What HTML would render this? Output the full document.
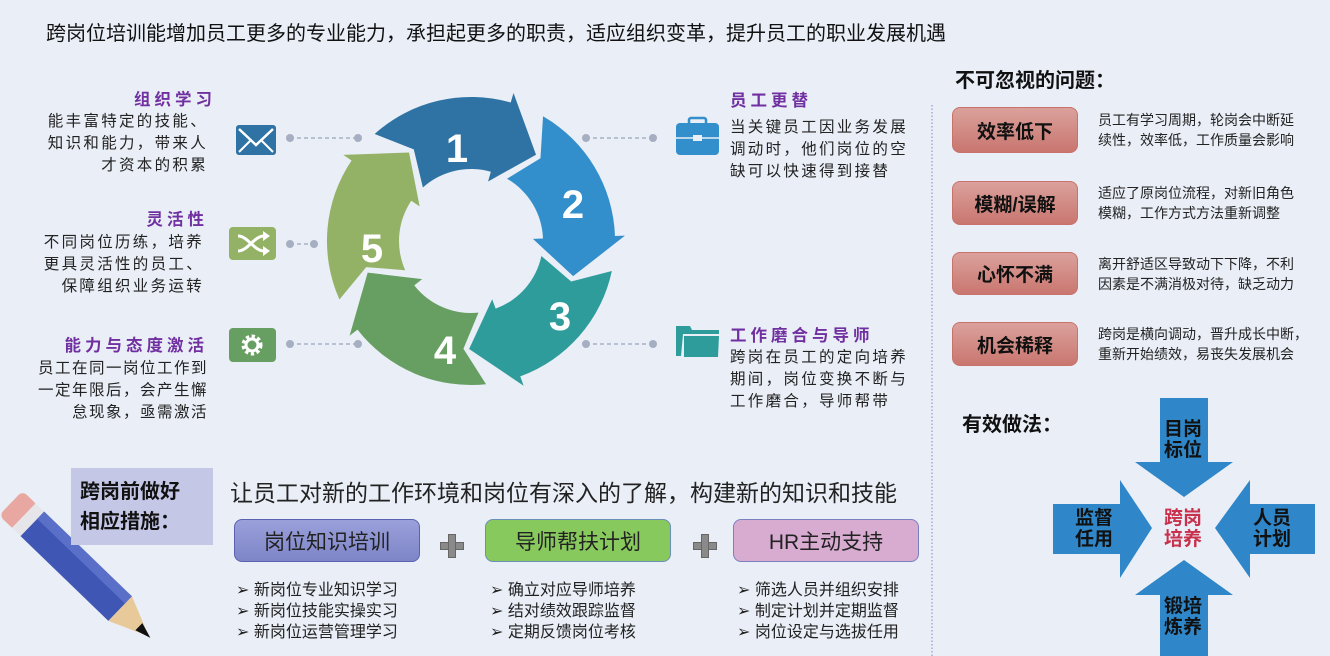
<!DOCTYPE html>
<html><head><meta charset="utf-8">
<style>
*{margin:0;padding:0;box-sizing:border-box}
body{width:1330px;height:656px;overflow:hidden;background:#e9eef7;font-family:"Liberation Sans","Noto Sans CJK SC",sans-serif;color:#222;position:relative}
.a{position:absolute;white-space:nowrap}
.tt{color:#7030a0;font-weight:bold;font-size:16.5px;letter-spacing:4px}
.tx{font-size:15.5px;line-height:22px;letter-spacing:2.3px;color:#222}
.r{text-align:right}
.rb{position:absolute;left:952px;width:126px;border:1px solid #c8726c;border-radius:8px;background:linear-gradient(#dba19c,#c9766f);font-weight:bold;font-size:19px;display:flex;align-items:center;justify-content:center;color:#111}
.rd{font-size:14px;line-height:20px;color:#222}
.gb{position:absolute;top:519px;height:43px;width:186px;border-radius:8px;font-size:21px;display:flex;align-items:center;justify-content:center;color:#222}
.bl{font-size:16px;line-height:21px;color:#222}
.cl{font-weight:bold;font-size:19px;line-height:21px;color:#111;text-align:center}
</style></head><body>

<div class="a" style="left:46px;top:17px;font-size:20px;color:#111">跨岗位培训能增加员工更多的专业能力，承担起更多的职责，适应组织变革，提升员工的职业发展机遇</div>

<svg class="a" style="left:0;top:0" width="1330" height="656">
 <g stroke="#9aa6bb" stroke-width="1.3" stroke-dasharray="4 3" fill="none">
  <line x1="290" y1="138" x2="358" y2="138"/>
  <line x1="290" y1="244" x2="314" y2="244"/>
  <line x1="290" y1="344" x2="358" y2="344"/>
  <line x1="586" y1="138" x2="653" y2="138"/>
  <line x1="586" y1="344" x2="653" y2="344"/>
 </g>
 <g fill="#a6afc2">
  <circle cx="290" cy="138" r="4"/><circle cx="358" cy="138" r="4"/>
  <circle cx="290" cy="244" r="4"/><circle cx="314" cy="244" r="4"/>
  <circle cx="290" cy="344" r="4"/><circle cx="358" cy="344" r="4"/>
  <circle cx="586" cy="138" r="4"/><circle cx="653" cy="138" r="4"/>
  <circle cx="586" cy="344" r="4"/><circle cx="653" cy="344" r="4"/>
 </g>
 <defs>
  <path id="seg" d="M-80.5,-119.4 A144,144 0 0 1 58.6,-131.6 L62.7,-140.7 L76.4,-76.4 L25.2,-56.6 L29.3,-65.8 A72,72 0 0 0 -40.2,-59.7 L-43.9,-98.7 Z"/>
 </defs>
 <g transform="translate(471,241)">
  <use href="#seg" fill="#2e73a3" transform="rotate(-8)"/>
  <use href="#seg" fill="#338fcb" transform="rotate(64)"/>
  <use href="#seg" fill="#2f9c9c" transform="rotate(136)"/>
  <use href="#seg" fill="#679f62" transform="rotate(208)"/>
  <use href="#seg" fill="#93b266" transform="rotate(280)"/>
 </g>
 <g fill="#fff" font-family="Liberation Sans,sans-serif" font-weight="bold" font-size="40" text-anchor="middle">
  <text x="457" y="162">1</text>
  <text x="573" y="218">2</text>
  <text x="560" y="330">3</text>
  <text x="445" y="364">4</text>
  <text x="372" y="262">5</text>
 </g>
 <rect x="236" y="125" width="40" height="30" rx="3" fill="#2e73a3"/>
 <polyline points="239,129 256,145 273,129" fill="none" stroke="#fff" stroke-width="2.5"/>
 <line x1="239" y1="152" x2="250" y2="141" stroke="#fff" stroke-width="2"/>
 <line x1="273" y1="152" x2="262" y2="141" stroke="#fff" stroke-width="2"/>
 <rect x="229" y="227" width="47" height="33" rx="4" fill="#93b266"/>
 <g stroke="#fff" stroke-width="3" fill="none">
  <path d="M238,236 C248,236 254,251 264,251"/><path d="M238,251 C248,251 254,236 264,236"/>
 </g>
 <polygon points="263,231 270,236 263,241" fill="#fff"/><polygon points="263,246 270,251 263,256" fill="#fff"/>
 <rect x="229" y="328" width="47" height="34" rx="4" fill="#679f62"/>
 <circle cx="252" cy="345" r="8" fill="none" stroke="#fff" stroke-width="5" stroke-dasharray="3 2.3"/>
 <circle cx="252" cy="345" r="6" fill="none" stroke="#fff" stroke-width="3"/>
 <rect x="676" y="123" width="43" height="32" rx="4" fill="#338fcb"/>
 <rect x="689" y="118" width="17" height="7" rx="2" fill="none" stroke="#338fcb" stroke-width="2.5"/>
 <line x1="676" y1="138" x2="719" y2="138" stroke="#e9eef7" stroke-width="1.5"/>
 <rect x="693" y="135" width="9" height="6" fill="#e9eef7"/>
 <path d="M676,326 L690,326 L692,330 L719,330 L719,334 L683,334 L681,356 L676,356 Z" fill="#2f9c9c"/>
 <path d="M684,336 L719,336 L718,357 L684,357 Z" fill="#2f9c9c"/>
 <line x1="932" y1="105" x2="932" y2="656" stroke="#8c9bd0" stroke-width="1.2" stroke-dasharray="1.5 2"/>
 <g fill="#2f86c8">
  <polygon points="1160,398 1208,398 1208,462 1233,462 1184,497 1135,462 1160,462"/>
  <polygon points="1160,656 1208,656 1208,595 1233,595 1184,560 1135,595 1160,595"/>
  <polygon points="1053,504 1120,504 1120,480 1152,528 1120,578 1120,554 1053,554"/>
  <polygon points="1315,504 1250,504 1250,480 1215,528 1250,578 1250,554 1315,554"/>
 </g>
 <g transform="translate(18,510) rotate(44)">
  <rect x="-10" y="-17" width="22" height="34" rx="6" fill="#e8a7a0"/>
  <rect x="8" y="-17" width="12" height="34" fill="#e6e6ea"/>
  <rect x="20" y="-17" width="122" height="34" fill="#3f56b4"/>
  <rect x="20" y="-17" width="122" height="10" fill="#5a70c8"/>
  <polygon points="142,-17 182,0 142,17" fill="#e8c99a"/>
  <polygon points="168,-5 184,0 168,5" fill="#111"/>
 </g>
</svg>

<div class="a tt r" style="right:1114px;top:86px">组织学习</div>
<div class="a tx r" style="right:1122px;top:111px">能丰富特定的技能、<br>知识和能力，带来人<br>才资本的积累</div>
<div class="a tt r" style="right:1122px;top:206px">灵活性</div>
<div class="a tx r" style="right:1126px;top:232px">不同岗位历练，培养<br>更具灵活性的员工、<br>保障组织业务运转</div>
<div class="a tt r" style="right:1122px;top:332px">能力与态度激活</div>
<div class="a tx r" style="right:1122px;top:358px;letter-spacing:1.5px">员工在同一岗位工作到<br>一定年限后，会产生懈<br>怠现象，亟需激活</div>

<div class="a tt" style="left:730px;top:87px">员工更替</div>
<div class="a tx" style="left:730px;top:117px">当关键员工因业务发展<br>调动时，他们岗位的空<br>缺可以快速得到接替</div>
<div class="a tt" style="left:730px;top:322px">工作磨合与导师</div>
<div class="a tx" style="left:730px;top:347px">跨岗在员工的定向培养<br>期间，岗位变换不断与<br>工作磨合，导师帮带</div>

<div class="a" style="left:955px;top:64px;font-weight:bold;font-size:20px;color:#111">不可忽视的问题：</div>
<div class="rb" style="top:107px;height:46px">效率低下</div>
<div class="a rd" style="left:1098px;top:110px">员工有学习周期，轮岗会中断延<br>续性，效率低，工作质量会影响</div>
<div class="rb" style="top:181px;height:44px">模糊/误解</div>
<div class="a rd" style="left:1098px;top:183px">适应了原岗位流程，对新旧角色<br>模糊，工作方式方法重新调整</div>
<div class="rb" style="top:252px;height:43px">心怀不满</div>
<div class="a rd" style="left:1098px;top:254px">离开舒适区导致动下下降，不利<br>因素是不满消极对待，缺乏动力</div>
<div class="rb" style="top:322px;height:44px">机会稀释</div>
<div class="a rd" style="left:1098px;top:324px">跨岗是横向调动，晋升成长中断，<br>重新开始绩效，易丧失发展机会</div>

<div class="a" style="left:962px;top:408px;font-weight:bold;font-size:20px;color:#111">有效做法：</div>
<div class="a cl" style="left:1164px;top:419px">目岗<br>标位</div>
<div class="a cl" style="left:1075px;top:508px">监督<br>任用</div>
<div class="a cl" style="left:1253px;top:508px">人员<br>计划</div>
<div class="a cl" style="left:1164px;top:596px">锻培<br>炼养</div>
<div class="a cl" style="left:1164px;top:508px;color:#c8304c">跨岗<br>培养</div>

<div class="a" style="left:71px;top:468px;width:142px;height:77px;background:#c4c7e6"></div>
<div class="a" style="left:80px;top:477px;font-weight:bold;font-size:20px;line-height:30px;color:#111">跨岗前做好<br>相应措施：</div>
<div class="a" style="left:230px;top:474px;font-size:23px;color:#222">让员工对新的工作环境和岗位有深入的了解，构建新的知识和技能</div>

<div class="gb" style="left:234px;background:linear-gradient(#9aa0da,#7e85c8);border:1px solid #5a62b0">岗位知识培训</div>
<div class="gb" style="left:485px;background:#88c95e;border:1px solid #6a8fb8">导师帮扶计划</div>
<div class="gb" style="left:733px;background:#d8abd1;border:1px solid #7b80c0">HR主动支持</div>

<div class="a" style="left:440px;top:542px;width:24px;height:8px;background:#8a8a8a;border:1px solid #666"></div>
<div class="a" style="left:448px;top:534px;width:8px;height:24px;background:#8a8a8a;border:1px solid #666"></div>
<div class="a" style="left:693px;top:542px;width:24px;height:8px;background:#8a8a8a;border:1px solid #666"></div>
<div class="a" style="left:701px;top:534px;width:8px;height:24px;background:#8a8a8a;border:1px solid #666"></div>

<div class="a bl" style="left:236px;top:580px">➢ 新岗位专业知识学习<br>➢ 新岗位技能实操实习<br>➢ 新岗位运营管理学习</div>
<div class="a bl" style="left:490px;top:580px">➢ 确立对应导师培养<br>➢ 结对绩效跟踪监督<br>➢ 定期反馈岗位考核</div>
<div class="a bl" style="left:737px;top:580px">➢ 筛选人员并组织安排<br>➢ 制定计划并定期监督<br>➢ 岗位设定与选拔任用</div>

</body></html>
